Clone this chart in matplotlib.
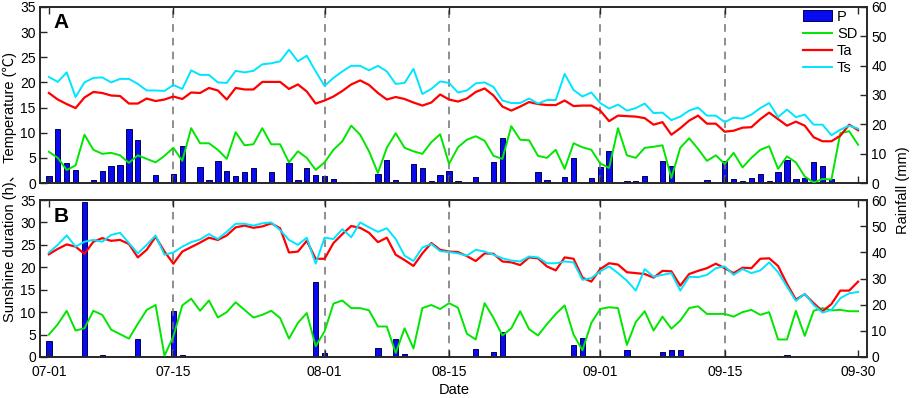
import numpy as np
import matplotlib.pyplot as plt
from matplotlib.patches import Patch
from matplotlib.lines import Line2D

plt.rcParams['font.family'] = ['Liberation Sans', 'Noto Sans CJK SC', 'DejaVu Sans']
plt.rcParams['font.size'] = 10

days = np.arange(92)
tick_days = [0, 14, 31, 45, 62, 76, 91]
tick_labels = ['07-01', '07-15', '08-01', '08-15', '09-01', '09-15', '09-30']
month_lines = [14, 31, 45, 62, 76]

# panel A
ts_a = [21.1, 20.1, 22.0, 17.1, 20.0, 20.9, 21.0, 20.0, 20.7, 20.7,
        19.7, 18.4, 18.4, 18.3, 19.5, 18.7, 22.4, 21.5, 21.5, 20.0,
        19.9, 22.3, 22.0, 22.3, 23.6, 23.8, 24.2, 26.5, 24.2, 25.3,
        22.2, 19.3, 20.9, 22.2, 23.3, 23.3, 22.4, 23.3, 22.2, 19.7,
        19.9, 22.7, 17.7, 18.7, 20.2, 19.9, 18.0, 18.4, 19.8, 20.0,
        19.1, 16.4, 15.9, 15.9, 16.8, 15.8, 16.5, 16.5, 21.7, 18.5,
        17.2, 18.0, 15.9, 14.8, 15.6, 14.4, 14.9, 15.8, 13.9, 14.0,
        12.5, 13.2, 14.4, 15.0, 13.4, 13.4, 12.1, 13.0, 12.8, 13.6,
        14.9, 15.9, 13.1, 14.6, 13.1, 13.6, 11.6, 11.6, 9.5, 10.6,
        11.4, 10.8]
ta_a = [17.9, 16.6, 15.7, 14.9, 17.0, 18.1, 17.9, 17.4, 17.3, 15.8,
        15.8, 16.8, 16.3, 16.6, 17.2, 16.7, 18.0, 17.9, 18.9, 18.4,
        16.6, 18.9, 18.6, 18.6, 20.1, 20.1, 20.1, 18.7, 19.6, 18.2,
        15.8, 16.4, 17.2, 18.3, 19.6, 20.4, 19.5, 17.9, 16.6, 17.1,
        16.7, 16.0, 15.4, 16.0, 17.6, 16.6, 16.2, 16.8, 18.1, 18.8,
        17.4, 15.2, 14.4, 15.2, 16.1, 15.7, 15.5, 15.5, 16.4, 15.3,
        15.4, 15.4, 14.4, 12.3, 13.4, 13.3, 13.2, 12.9, 11.6, 12.1,
        9.6, 10.9, 12.4, 13.4, 11.8, 11.8, 10.2, 10.4, 11.0, 11.1,
        12.7, 14.0, 12.7, 11.4, 12.2, 11.4, 9.1, 8.3, 8.3, 9.4,
        11.6, 10.5]
sd_a = [6.2, 5.0, 2.6, 3.5, 9.6, 6.6, 5.8, 6.0, 5.5, 4.0,
        5.5, 4.8, 4.1, 5.4, 7.0, 4.4, 10.9, 7.9, 7.9, 6.6,
        4.8, 10.1, 7.5, 7.7, 10.9, 7.7, 7.7, 4.1, 6.3, 5.0,
        2.6, 4.1, 6.6, 8.3, 11.4, 9.6, 6.3, 2.0, 7.0, 9.9,
        7.0, 6.3, 5.8, 8.1, 9.7, 3.8, 7.1, 8.6, 9.3, 8.4,
        5.4, 4.8, 11.3, 8.6, 8.5, 5.4, 5.0, 6.6, 2.8, 7.9,
        7.1, 6.6, 3.9, 3.0, 10.9, 5.5, 5.0, 7.0, 7.2, 7.5,
        1.0, 7.0, 8.9, 6.8, 4.4, 5.5, 3.8, 6.0, 3.1, 5.0,
        6.6, 7.3, 2.8, 5.3, 4.1, 1.3, 0.1, 0.8, 0.7, 9.9,
        10.3, 7.6]
p_a = [2.3, 18.5, 6.9, 4.4, 0, 1.0, 4.1, 5.9, 6.3, 18.4,
       14.8, 0, 2.6, 0.1, 3.2, 12.5, 0, 5.6, 1.0, 7.5,
       4.0, 2.3, 3.8, 5.1, 0, 3.8, 0, 6.9, 0.9, 5.1,
       2.6, 2.3, 1.5, 0.5, 0, 0.2, 0, 3.2, 7.7, 0.9,
       0.5, 6.6, 5.2, 0.7, 2.8, 4.2, 0.8, 0, 2.2, 0,
       7.3, 15.5, 0.3, 0, 0.1, 3.6, 0.9, 0.1, 1.9, 8.5,
       0, 1.6, 5.3, 11.0, 0, 0.6, 0.6, 2.3, 0, 7.6,
       5.7, 0.1, 0, 0, 1.1, 0.1, 7.4, 1.4, 0.7, 1.7,
       3.2, 0.8, 3.8, 8.0, 1.5, 1.7, 7.0, 5.9, 1.5, 0,
       0, 0]

# panel B
ts_b = [23.3, 25.0, 27.1, 24.6, 25.7, 26.1, 25.7, 27.2, 27.7, 25.4,
        23.1, 25.0, 27.1, 22.8, 23.3, 24.6, 25.6, 26.2, 27.4, 26.3,
        27.9, 29.7, 29.7, 29.3, 29.8, 30.0, 28.3, 26.1, 25.0, 26.6,
        20.8, 26.6, 26.3, 28.5, 26.7, 30.0, 28.9, 27.9, 28.7, 26.3,
        22.6, 21.4, 24.4, 25.2, 23.6, 23.4, 23.1, 22.6, 23.9, 23.5,
        22.8, 22.0, 21.5, 21.3, 22.4, 22.2, 20.9, 20.9, 21.3, 21.1,
        17.2, 17.6, 19.1, 20.2, 18.7, 17.0, 14.8, 19.6, 17.9, 18.3,
        18.7, 14.8, 17.9, 17.8, 18.3, 19.8, 20.2, 18.3, 19.6, 18.7,
        19.3, 21.1, 18.9, 15.7, 12.5, 14.1, 11.6, 9.9, 10.5, 13.1,
        14.2, 14.5]
ta_b = [22.9, 24.1, 25.1, 24.6, 23.0, 25.7, 26.5, 25.9, 26.1, 25.2,
        22.2, 23.9, 26.8, 23.5, 20.8, 23.5, 24.5, 25.5, 26.6, 26.1,
        27.1, 28.9, 29.3, 28.8, 29.1, 29.8, 28.7, 23.3, 23.5, 25.9,
        21.9, 21.9, 25.4, 27.4, 29.2, 28.8, 27.7, 25.6, 26.6, 22.8,
        21.6, 20.3, 23.1, 25.4, 23.9, 23.5, 23.4, 22.5, 21.4, 23.1,
        23.0, 21.3, 21.1, 20.5, 22.2, 22.0, 20.2, 19.3, 22.2, 21.9,
        17.7, 16.8, 19.6, 20.9, 20.6, 18.9, 18.7, 18.5, 17.7, 19.2,
        19.1, 15.9, 18.5, 19.2, 19.8, 20.8, 19.8, 18.7, 19.9, 19.8,
        21.9, 22.0, 20.3, 16.3, 12.8, 14.0, 12.0, 10.2, 11.8, 14.8,
        14.8, 16.8]
sd_b = [5.0, 7.3, 10.3, 5.9, 6.4, 10.3, 9.4, 6.1, 5.1, 4.1,
        7.4, 10.5, 11.6, 0.3, 4.6, 11.5, 13.0, 10.3, 12.6, 8.8,
        10.0, 12.2, 10.5, 8.8, 9.4, 10.3, 8.7, 4.1, 7.6, 9.8,
        2.4, 5.7, 11.9, 12.6, 10.9, 10.9, 10.4, 6.8, 6.8, 0.9,
        6.4, 1.9, 10.9, 11.6, 10.7, 12.0, 11.0, 5.2, 3.9, 12.0,
        8.7, 4.8, 6.4, 10.2, 6.2, 4.8, 7.3, 9.6, 11.5, 5.0,
        1.5, 7.6, 10.7, 11.1, 10.9, 2.7, 7.8, 10.2, 5.9, 9.0,
        6.3, 8.1, 10.9, 11.3, 9.6, 9.6, 9.6, 9.0, 10.0, 10.5,
        9.4, 10.0, 3.9, 3.9, 10.3, 4.7, 10.3, 10.9, 10.4, 10.5,
        10.2, 10.2]
p_b = [6.0, 0, 0, 0, 59.3, 0, 0.6, 0, 0, 0.25,
       7.0, 0, 0, 0.4, 17.4, 0.6, 0, 0, 0, 0,
       0, 0, 0, 0, 0, 0, 0, 0.1, 0, 0,
       28.8, 1.5, 0, 0, 0, 0, 0, 3.4, 0, 6.7,
       1.1, 0, 0, 0, 0, 0, 0, 0, 2.9, 0,
       1.9, 9.4, 0, 0, 0, 0, 0, 0, 0, 4.4,
       7.2, 0, 0, 0, 0, 2.8, 0, 0, 0, 1.8,
       2.5, 2.5, 0, 0, 0, 0, 0, 0, 0, 0,
       0, 0, 0.25, 0.6, 0, 0, 0, 0, 0, 0,
       0, 0]

C_SD = '#00e600'
C_TA = '#ff0000'
C_TS = '#00e5ff'
C_P = '#0a0af0'
SPINE = '#262626'


def draw_panel(rect, ts, ta, sd, p, letter, letter_y, show_x):
    ax = fig.add_axes(rect)
    ax2 = ax.twinx()
    ax.set_zorder(ax2.get_zorder() + 1)
    ax.patch.set_visible(False)

    ax2.bar(days, p, width=0.6, color=C_P, edgecolor='#00005a', linewidth=0.7)
    ax2.set_ylim(0, 60)
    ax2.set_yticks(range(0, 61, 10))

    for d in month_lines:
        ax.axvline(d, color='#707070', linestyle=(0, (5, 4)), linewidth=1.1, zorder=1)
    ax.plot(days, sd, color=C_SD, linewidth=1.4, zorder=3)
    ax.plot(days, ta, color=C_TA, linewidth=1.6, zorder=3)
    ax.plot(days, ts, color=C_TS, linewidth=1.4, zorder=3)

    ax.set_xlim(-1, 92)
    ax.set_ylim(0, 35)
    ax.set_yticks(range(0, 36, 5))
    ax.set_xticks(tick_days)
    if show_x:
        ax.set_xticklabels(tick_labels)
    else:
        ax.set_xticklabels([])
    ax.tick_params(axis='x', direction='in', top=True, length=5, width=1, colors=SPINE,
                   labelcolor='black', labelsize=10, pad=6)
    ax.tick_params(axis='y', direction='in', length=5, width=1, colors=SPINE,
                   labelcolor='black', labelsize=10, pad=3)
    ax2.tick_params(axis='y', direction='in', length=5, width=1, colors=SPINE,
                    labelcolor='black', labelsize=10, pad=3)
    for a in (ax, ax2):
        for s in a.spines.values():
            s.set_linewidth(1.2)
            s.set_color(SPINE)
    ax.text(0.016, letter_y, letter, transform=ax.transAxes, fontsize=15,
            fontweight='bold', va='baseline', ha='left')
    return ax, ax2


fig = plt.figure(figsize=(9.13, 3.98), dpi=100)
left = 40 / 913
width = 827 / 913
ax_a, ax2_a = draw_panel([left, 1 - 183 / 398, width, 176 / 398],
                         ts_a, ta_a, sd_a, p_a, 'A', 0.88, False)
ax_b, ax2_b = draw_panel([left, 1 - 357 / 398, width, 157 / 398],
                         ts_b, ta_b, sd_b, p_b, 'B', 0.86, True)

handles = [Patch(facecolor=C_P, edgecolor='#00005a', linewidth=0.7),
           Line2D([], [], color=C_SD, linewidth=1.4),
           Line2D([], [], color=C_TA, linewidth=1.6),
           Line2D([], [], color=C_TS, linewidth=1.4)]
ax_a.legend(handles, ['P', 'SD', 'Ta', 'Ts'], loc='upper left',
            bbox_to_anchor=(0.923, 0.985), frameon=False, fontsize=10.5,
            handlelength=2.0, handletextpad=0.3, labelspacing=0.22,
            borderpad=0, borderaxespad=0)

fig.text(10 / 913, 1 - 187 / 398, 'Sunshine duration (h)、 Temperature (℃)',
         rotation=90, va='center', ha='center', fontsize=10.5)
fig.text(903 / 913, 1 - 190 / 398, 'Rainfall (mm)', rotation=90,
         va='center', ha='center', fontsize=10.5)
fig.text(454 / 913, 1 - 390 / 398, 'Date', va='center', ha='center', fontsize=10.5)

fig.savefig('out.png', dpi=100)
